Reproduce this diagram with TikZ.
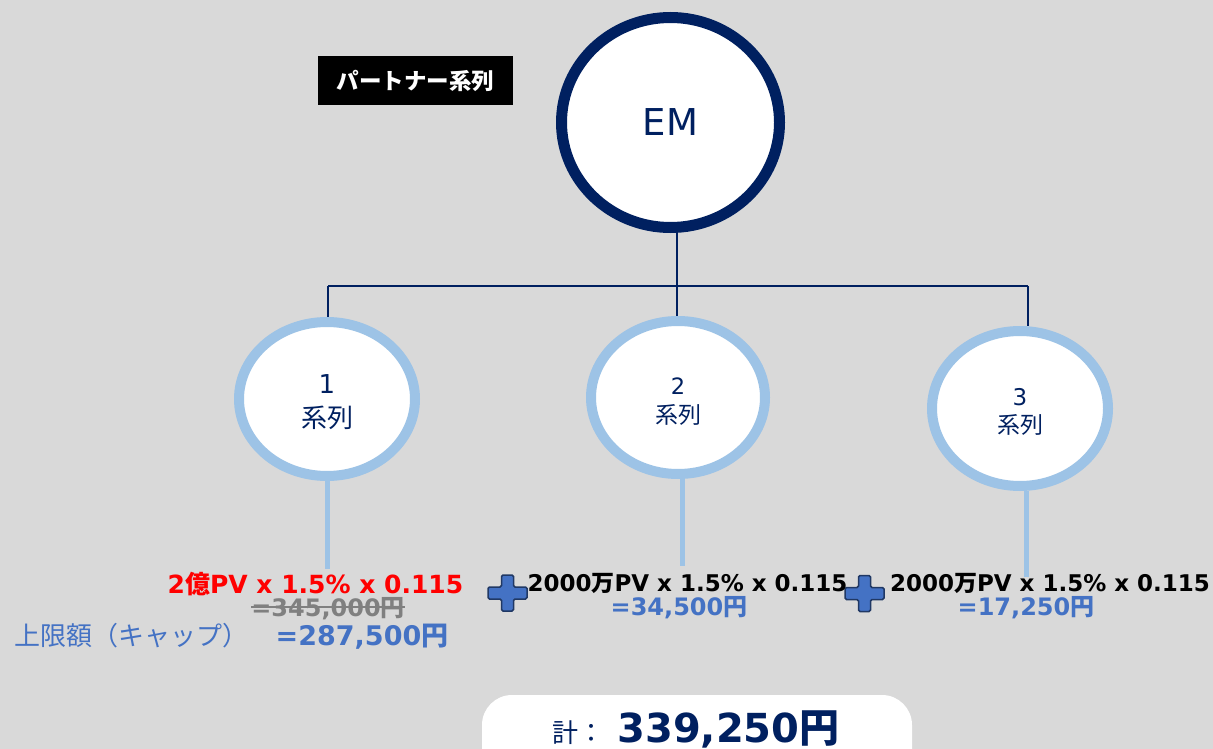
\documentclass[tikz,border=0pt]{standalone}
\usepackage{fontspec}
\setmainfont{DejaVu Sans}
\newfontfamily\jp{Noto Sans CJK JP}
\newcommand\J[1]{{\jp #1}}
\usetikzlibrary{shapes.geometric}
\definecolor{bgc}{HTML}{D9D9D9}
\definecolor{navy}{HTML}{002060}
\definecolor{lblue}{HTML}{9DC3E6}
\definecolor{mblue}{HTML}{4472C4}
\definecolor{dblue}{HTML}{203864}
\definecolor{gtext}{HTML}{808080}
\pgfdeclarelayer{bg}
\pgfdeclarelayer{lines}
\pgfsetlayers{bg,lines,main}
\newcommand\fs[1]{\fontsize{#1}{#1}\selectfont}
\tikzset{
  emnode/.style={ellipse, draw=navy, line width=11pt, fill=white, minimum width=218pt, minimum height=210pt, inner sep=0pt, text=navy, font=\fs{37}},
  sernode/.style={ellipse, draw=lblue, line width=10pt, fill=white, minimum width=176pt, minimum height=154pt, inner sep=0pt},
  sertext/.style={text=navy, inner sep=0pt, anchor=base},
  tree/.style={navy, line width=2pt},
  stem/.style={lblue, line width=5pt},
  calc/.style={inner sep=0pt, anchor=base, font=\bfseries\fs{23}},
  res/.style={inner sep=0pt, anchor=base, text=mblue, font=\bfseries\fs{24}},
  plusstyle/.style={fill=mblue, draw=dblue, line width=1.5pt, rounded corners=1.5pt},
}
\newcommand\plusicon[1]{\draw[plusstyle] (#1) ++(-6,-18) -- ++(12,0) -- ++(0,12) -- ++(13.5,0) -- ++(0,12) -- ++(-13.5,0) -- ++(0,12) -- ++(-12,0) -- ++(0,-12) -- ++(-13.5,0) -- ++(0,-12) -- ++(13.5,0) -- cycle;}
\begin{document}
\begin{tikzpicture}[x=1pt,y=-1pt]
\begin{pgfonlayer}{bg}
\fill[bgc] (0,0) rectangle (1213,749);
\end{pgfonlayer}
\useasboundingbox (0,0) rectangle (1213,749);

% title label
\node[fill=black, text=white, minimum width=195pt, minimum height=49pt, inner sep=0pt, font=\jp\bfseries\fs{22.5}] (label) at (415.5,80.5) {パートナー系列};

% EM
\node[emnode] (em) at (670.5,122.5) {EM};

% series
\node[sernode] (c1) at (327,399) {};
\node[sernode, minimum width=174pt, minimum height=153pt] (c2) at (678,397.5) {};
\node[sernode, minimum width=176pt, minimum height=155pt] (c3) at (1020,408.5) {};

\node[sertext, font=\fs{26}] (n1) at (327,393) {1};
\node[sertext, font=\jp\fs{26}] (s1) at (327,427) {系列};
\node[sertext, font=\fs{22.5}] (n2) at (678,394) {2};
\node[sertext, font=\jp\fs{23}] (s2) at (678,423) {系列};
\node[sertext, font=\fs{23}] (n3) at (1020,405) {3};
\node[sertext, font=\jp\fs{23}] (s3) at (1020,433) {系列};

% tree connectors
\coordinate (j) at (677,286);
\coordinate (jl) at (328,286);
\coordinate (jr) at (1028,286);
\begin{pgfonlayer}{lines}
\draw[tree] (j |- em.south) -- (j);
\draw[tree] (jl) -- (jr);
\draw[tree] (jl) -- (jl |- c1.north);
\draw[tree] (j) -- (j |- c2.north);
\draw[tree] (jr) -- (jr |- c3.north);
\coordinate (e1) at (327,569);
\coordinate (e2) at (682,566);
\coordinate (e3) at (1026,577);
\draw[stem] (e1 |- c1.south) -- (e1);
\draw[stem] (e2 |- c2.south) -- (e2);
\draw[stem] (e3 |- c3.south) -- (e3);
\end{pgfonlayer}

% series 1 texts
\node[calc, text=red, font=\bfseries\fs{25}] (t1) at (315.5,593) {2\J{億}PV x 1.5\% x 0.115};
\node[res, text=gtext] (g1) at (328,616) {=345,000\J{円}};
\draw[gtext, line width=2pt] ([yshift=9pt]g1.base west) -- ([yshift=9pt]g1.base east);
\node[inner sep=0pt, anchor=base, text=mblue, font=\jp\fs{26}] (cap) at (131.5,645) {上限額（キャップ）};
\node[res, font=\bfseries\fs{27}] (r1) at (362,645) {=287,500\J{円}};

% plus icons
\coordinate (p1) at (507.5,593);
\coordinate (p2) at (864.5,593.5);
\plusicon{p1}
\plusicon{p2}

% series 2 texts
\node[calc] (t2) at (687.5,591) {2000\J{万}PV x 1.5\% x 0.115};
\node[res] (r2) at (679,615) {=34,500\J{円}};

% series 3 texts
\node[calc] (t3) at (1050,591) {2000\J{万}PV x 1.5\% x 0.115};
\node[res] (r3) at (1026,615) {=17,250\J{円}};

% total
\node[fill=white, rounded corners=30pt, minimum width=430pt, minimum height=90pt, inner sep=0pt] (tot) at (697,740) {};
\node[inner sep=0pt, anchor=base, text=navy, font=\jp\fs{26}] (kei) at (578,742) {計：};
\node[inner sep=0pt, anchor=base, text=navy, font=\bfseries\fs{40}] (sum) at (728.5,742) {339,250\J{円}};
\end{tikzpicture}
\end{document}
